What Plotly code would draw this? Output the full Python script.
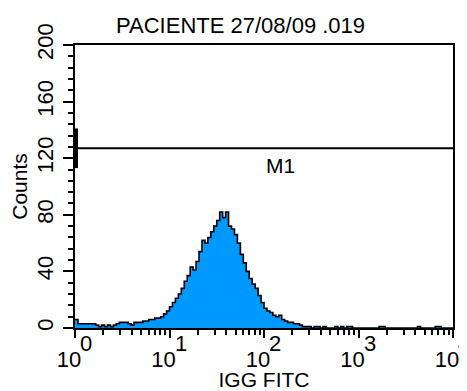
import plotly.graph_objects as go
import numpy as np

title_text = "PACIENTE 27/08/09 .019"
x_label = "IGG FITC"
y_label = "Counts"
marker_label = "M1"
marker_range = [1, 10000]
marker_level = 127
marker_bar = [113, 141]
marker_label_pos = [148, 115]

bins_per_decade = 32
decades = 4
counts = [
    6, 3, 3, 3, 3, 3, 3, 2, 1, 2, 1, 2, 1, 2, 3, 4,
    4, 4, 3, 2, 4, 4, 4, 5, 5, 6, 6, 7, 7, 8, 10, 12,
    15, 18, 21, 24, 28, 33, 37, 43, 41, 47, 54, 62, 60, 64, 68, 72,
    76, 82, 78, 82, 72, 70, 66, 60, 52, 46, 40, 35, 31, 28, 23, 18,
    14, 12, 11, 9, 8, 9, 6, 5, 4, 4, 3, 3, 2, 1, 1, 1,
    0, 1, 1, 0, 1, 0, 0, 0, 1, 0, 1, 0, 1, 1, 0, 0,
    0, 0, 0, 0, 0, 0, 0, 1, 1, 0, 0, 0, 0, 0, 0, 0,
    0, 0, 0, 0, 1, 0, 0, 0, 0, 0, 1, 1, 0, 0, 0, 0,
]
y_ticks = [0, 40, 80, 120, 160, 200]
y_minor = [v for v in range(0, 201, 8) if v not in y_ticks]
x_ticks = [1, 10, 100, 1000, 10000]
x_exponents = ["0", "1", "2", "3", "4"]
x_tick_text = ["10\u00a0\u00a0" for _ in x_ticks]
x_minor = [m * 10 ** d for d in range(4) for m in range(2, 10)]

n = len(counts)
edges = 10 ** (np.arange(n + 1) / bins_per_decade)
ys = counts + [counts[-1]]

FONT = "Liberation Sans, Arial, sans-serif"
fill_col = "#0099ff"

fig = go.Figure()
fig.add_trace(go.Scatter(
    x=edges, y=ys, mode="lines", line=dict(shape="hv", color="black", width=1.6),
    fill="tozeroy", fillcolor=fill_col, hoverinfo="skip", showlegend=False,
))

# marker M1
fig.add_shape(type="line", x0=marker_range[0], x1=marker_range[1], y0=marker_level, y1=marker_level,
              line=dict(color="black", width=2))
fig.add_shape(type="rect", xref="x", xsizemode="pixel", xanchor=marker_range[0], x0=0, x1=3,
              y0=marker_bar[0], y1=marker_bar[1], line=dict(width=0), fillcolor="black")
fig.add_shape(type="rect", xref="x", xsizemode="pixel", xanchor=marker_range[1], x0=-3, x1=0,
              y0=marker_bar[0], y1=marker_bar[1], line=dict(width=0), fillcolor="black")
fig.add_annotation(x=np.log10(marker_label_pos[0]), y=marker_label_pos[1], text=marker_label,
                   showarrow=False, font=dict(size=21, color="black", family=FONT))

# exponents of the x tick labels
for tv, ex in zip(x_ticks, x_exponents):
    fig.add_annotation(x=np.log10(tv), y=0, xref="x", yref="paper", text=ex, showarrow=False,
                       xanchor="left", yanchor="middle", xshift=4, yshift=-15, borderpad=0,
                       font=dict(size=22, color="black", family=FONT))

fig.add_annotation(x=0.439, y=1.0, xref="paper", yref="paper", yanchor="middle", yshift=20,
                   text=title_text, showarrow=False, font=dict(size=22, color="black", family=FONT))

# the page body adds an 8px offset, so the figure is sized to end at the window edge
fig.update_layout(
    width=459, height=383,
    margin=dict(l=67, r=14, t=37, b=63),
    paper_bgcolor="white", plot_bgcolor="white",
    font=dict(family=FONT, size=20, color="black"),
    showlegend=False,
)
fig.update_xaxes(
    type="log", range=[0, 4], showgrid=False, zeroline=False, automargin=False,
    showline=True, linecolor="black", linewidth=2, mirror=True,
    tickmode="array", tickvals=x_ticks, ticktext=x_tick_text, ticklabeloverflow="allow",
    ticks="outside", ticklen=8, tickwidth=2, tickcolor="black", ticklabelstandoff=3,
    minor=dict(tickmode="array", tickvals=x_minor, ticks="outside", ticklen=5, tickwidth=1.5, tickcolor="black"),
    tickfont=dict(size=22, family=FONT),
    title=dict(text=x_label, font=dict(size=21, family=FONT), standoff=0),
)
fig.update_yaxes(
    range=[0, 200], showgrid=False, zeroline=False, automargin=False,
    showline=True, linecolor="black", linewidth=2, mirror=True,
    tickmode="array", tickvals=y_ticks, tickangle=-90, ticklabeloverflow="allow",
    ticks="outside", ticklen=10, tickwidth=2, tickcolor="black", ticklabelstandoff=1,
    minor=dict(tickmode="array", tickvals=y_minor, ticks="outside", ticklen=5, tickwidth=1.5, tickcolor="black"),
    tickfont=dict(size=22, family=FONT),
    title=dict(text=y_label, font=dict(size=21, family=FONT), standoff=2),
)

fig.write_html("out.html")
